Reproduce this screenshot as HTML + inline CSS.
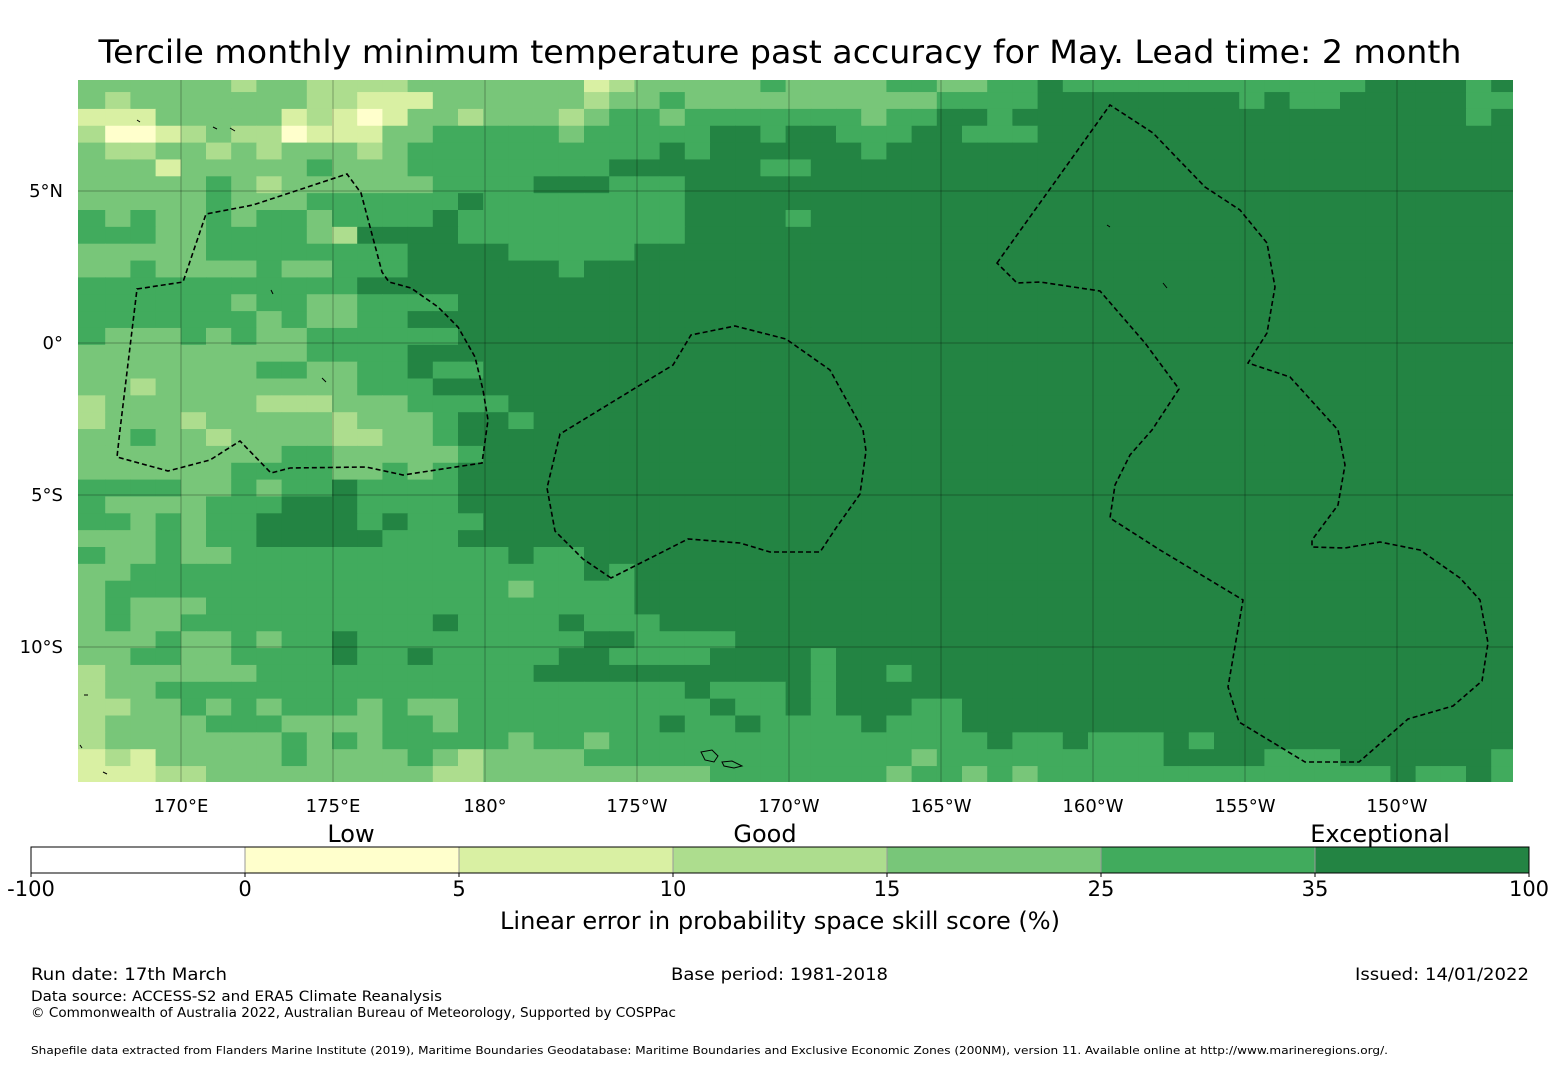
<!DOCTYPE html>
<html><head><meta charset="utf-8">
<style>
html,body{margin:0;padding:0;background:#fff;}
svg{display:block;font-family:"DejaVu Sans","Liberation Sans",sans-serif;}
</style></head>
<body>
<svg id="fig" width="1560" height="1065" viewBox="0 0 1560 1065" xmlns="http://www.w3.org/2000/svg">
  <rect width="1560" height="1065" fill="#fff"/>
  <text x="780" y="63" text-anchor="middle" font-size="32" textLength="1363" lengthAdjust="spacingAndGlyphs">Tercile monthly minimum temperature past accuracy for May. Lead time: 2 month</text>
  <defs><clipPath id="mapclip"><rect x="78" y="80" width="1435" height="702"/></clipPath></defs>
  <g id="map" clip-path="url(#mapclip)">
    <g id="cells"></g>
    <g id="grid"></g>
    <g fill="none" stroke="#000" stroke-width="1.6" stroke-dasharray="5,3">
      <path d="M137,289 L183,282 L206,214 L253,205 L347,174 L361,193 L382,272 L389,282 L411,288 L438,307 L458,327 L475,357 L483,390 L488,420 L482,463 L403,475 L366,467 L290,468 L271,473 L240,441 L210,460 L168,471 L117,457 L120,430 Z"/>
      <path d="M611,578 L583,559 L555,531 L547,488 L560,434 L673,365 L691,335 L735,326 L786,339 L830,370 L863,430 L866,451 L860,494 L836,528 L820,552 L770,552 L740,543 L688,539 Z"/>
      <path d="M997,263 L1110,105 L1153,133 L1205,187 L1240,210 L1267,243 L1275,287 L1267,333 L1248,363 L1290,377 L1338,430 L1345,465 L1338,505 L1312,540 L1312,547 L1345,548 L1380,542 L1420,550 L1460,578 L1480,600 L1488,643 L1482,681 L1453,706 L1408,719 L1359,762 L1305,762 L1239,722 L1228,687 L1243,600 L1160,550 L1110,518 L1115,485 L1130,455 L1152,430 L1179,389 L1145,343 L1100,291 L1040,282 L1017,283 Z"/>
    </g>
    <g fill="none" stroke="#000" stroke-width="1">
      <path d="M701,752 L712,750 L718,756 L714,762 L705,760 Z M722,762 L732,761 L742,766 L734,768 L724,766 Z"/>
      <path d="M213,127 l4,2 M230,128 l5,3 M137,120 l3,2 M271,290 l2,4 M322,378 l4,4 M1163,283 l4,5 M1107,225 l3,2 M84,695 l4,0 M103,772 l4,2 M80,745 l2,3"/>
    </g>
  </g>
  <g id="latlabels" font-size="18" text-anchor="end"></g>
  <g id="lonlabels" font-size="18" text-anchor="middle"></g>
  <g id="cbar"></g>
  <text x="351" y="842" font-size="24" text-anchor="middle">Low</text>
  <text x="765" y="842" font-size="24" text-anchor="middle">Good</text>
  <text x="1380" y="842" font-size="24" text-anchor="middle">Exceptional</text>
  <text x="780" y="929" font-size="24" text-anchor="middle" textLength="560" lengthAdjust="spacingAndGlyphs">Linear error in probability space skill score (%)</text>
  <text x="31" y="980" font-size="17" textLength="196" lengthAdjust="spacingAndGlyphs">Run date: 17th March</text>
  <text x="671" y="980" font-size="17" textLength="217" lengthAdjust="spacingAndGlyphs">Base period: 1981-2018</text>
  <text x="1355" y="980" font-size="17" textLength="174" lengthAdjust="spacingAndGlyphs">Issued: 14/01/2022</text>
  <text x="31" y="1001" font-size="14" textLength="411" lengthAdjust="spacingAndGlyphs">Data source: ACCESS-S2 and ERA5 Climate Reanalysis</text>
  <text x="31" y="1017" font-size="13" textLength="645" lengthAdjust="spacingAndGlyphs">© Commonwealth of Australia 2022, Australian Bureau of Meteorology, Supported by COSPPac</text>
  <text x="31" y="1054" font-size="11" textLength="1357" lengthAdjust="spacingAndGlyphs">Shapefile data extracted from Flanders Marine Institute (2019), Maritime Boundaries Geodatabase: Maritime Boundaries and Exclusive Economic Zones (200NM), version 11. Available online at http://www.marineregions.org/.</text>
</svg>
<script>
// colour classes (category index 0..6)
const classBounds = [-100, 0, 5, 10, 15, 25, 35, 100];
const classColors = ["#ffffff", "#ffffcc", "#d9f0a3", "#addd8e", "#78c679", "#41ab5d", "#238443"];
const classLabels = ["-100", "0", "5", "10", "15", "25", "35", "100"];
// lat/lon ticks
const lonTicks = [170, 175, 180, 185, 190, 195, 200, 205, 210];
const lonTickLabels = ["170°E", "175°E", "180°", "175°W", "170°W", "165°W", "160°W", "155°W", "150°W"];
const latTicks = [5, 0, -5, -10];
const latTickLabels = ["5°N", "0°", "5°S", "10°S"];
// grid cell category codes (row 0 = north), left / middle / right blocks
const gridLeft = [
"4444443443333444","4344444443322244","2224444423212443","3112343312224455","4334434344434555",
"4442444445444555","4444454344444455","4444454445555556","5454454554555565","5554455554366665",
"4444455555555666","4454444544555666","5555555555566666","5555554554455556","5555555454455666",
"5444545445555556","4444444445555666","4444444554455655","4434444444455566","3444444333444555",
"3444344444344456","4454434444334456","4444444455444445","4444445555445456","5555445455655556",
"5444455566655556","5545455666656555","4445455666665556","5445445555555555","4455555555555555",
"4555555555555555","4544455555555555","4544555555555565","4445445455655555","4455445555655655",
"3444444555555555","3445555555555555","3344545455545445","3444455544445545","3444444454545555",
"2324444454444543","2223344444444433"];
const gridMid = [
"44442344444544445544","44443445444444444455","44434554555555545566","55545555566566555665","55555556566666656666",
"55555666666556666666","55666555666666666666","55555555666666666666","55555555666656666666","55555555666666666666",
"65555566666666666666","66656666666666666666","66666666666666666666","66666666666666666666","66666666666666666666",
"66666666666666666666","66666666666666666666","66666666666666666666","66666666666666666666","56666666666666666666",
"65666666666666666666","66666666666666666666","66666666666666666666","66666666666666666666","66666666666666666666",
"66666666666666666666","66666666666666666666","66666666666666666666","56556666666666666666","55556566666666666666",
"54555566666666666666","55555566666666666666","55565556666666666666","55556655556666666666","55566555566665666666",
"55666666666665665666","55555555655565666666","55555555565565666556","55555556556555565556","54554555555555555555",
"44445555555555555455","44444444455555554554"];
const gridRight = [
"556555555555555666656","556666666656556666655","566666666666666666656","556666666666666666666"];
const fullRow = "666666666666666666666";
const gridRightLower = {39:"655655565666666666666", 40:"555555566665556666665", 41:"545555555555555565565"};

const NS = "http://www.w3.org/2000/svg";
const map = {x0:78, x1:1513, y0:80, y1:782};
// axis functions (PlateCarree)
function lonX(lonEast){ return 181 + (lonEast - 170) * 30.4; }
function latY(lat){ return 343 - lat * 30.4; }
const cellW = 25.2, cellH = 16.85, gridX0 = 80, gridY0 = 75.2;
function colX(c){ return gridX0 + c * cellW; }
function rowY(r){ return gridY0 + r * cellH; }
function mk(tag, attrs){ const e = document.createElementNS(NS, tag); for (const k in attrs) e.setAttribute(k, attrs[k]); return e; }

const cells = document.getElementById('cells');
for (let r = 0; r < gridLeft.length; r++) {
  const right = r < gridRight.length ? gridRight[r] : (gridRightLower[r] || fullRow);
  const row = gridLeft[r] + gridMid[r] + right;
  for (let c = 0; c < row.length; c++) {
    const k = +row[c];
    let x = colX(c), w = cellW + 0.6;
    if (c === 0) { x -= 3; w += 3; }
    if (c === row.length - 1) { w += 20; }
    const el = mk('rect', {x: x.toFixed(2), y: rowY(r).toFixed(2), width: w.toFixed(2), height: (cellH + 0.6).toFixed(2), fill: classColors[k]});
    
    
    cells.appendChild(el);
  }
}
const grid = document.getElementById('grid');
lonTicks.forEach((lon) => {
  const x = lonX(lon);
  const el = mk('line', {x1:x, x2:x, y1:map.y0, y2:map.y1, stroke:'#000', 'stroke-opacity':0.3, 'stroke-width':1});
  
  
  grid.appendChild(el);
});
latTicks.forEach((lat) => {
  const y = latY(lat);
  const el = mk('line', {x1:map.x0, x2:map.x1, y1:y, y2:y, stroke:'#000', 'stroke-opacity':0.3, 'stroke-width':1});
  
  
  grid.appendChild(el);
});
const lonG = document.getElementById('lonlabels');
lonTicks.forEach((lon, i) => {
  const t = mk('text', {x: lonX(lon), y: 812});
  t.textContent = lonTickLabels[i];
  
  
  lonG.appendChild(t);
});
const latG = document.getElementById('latlabels');
latTicks.forEach((lat, i) => {
  const t = mk('text', {x: 63, y: latY(lat) + 6});
  t.textContent = latTickLabels[i];
  
  
  latG.appendChild(t);
});
// colorbar: equal-width segments
const cb = document.getElementById('cbar');
const cbX0 = 31, cbX1 = 1529, cbY = 847, cbH = 26;
const segW = (cbX1 - cbX0) / classColors.length;
function cbX(i){ return cbX0 + i * segW; }
classColors.forEach((col, i) => {
  const r = mk('rect', {x: cbX(i), y: cbY, width: segW, height: cbH, fill: col});
  
  
  cb.appendChild(r);
  if (i > 0) {
    const d = mk('line', {x1: cbX(i), x2: cbX(i), y1: cbY, y2: cbY + cbH, stroke: '#999', 'stroke-width': 1});
    
    
    cb.appendChild(d);
  }
});
const outline = mk('rect', {x: cbX0, y: cbY, width: cbX1 - cbX0, height: cbH, fill: 'none', stroke: '#000', 'stroke-width': 1});


cb.appendChild(outline);
classLabels.forEach((lab, i) => {
  const tk = mk('line', {x1: cbX(i), x2: cbX(i), y1: cbY + cbH, y2: cbY + cbH + 4, stroke: '#000', 'stroke-width': 1});
  
  
  cb.appendChild(tk);
  const t = mk('text', {x: cbX(i), y: 896, 'font-size': 21, 'text-anchor': 'middle'});
  t.textContent = lab;
  
  
  cb.appendChild(t);
});
</script>
</body></html>
